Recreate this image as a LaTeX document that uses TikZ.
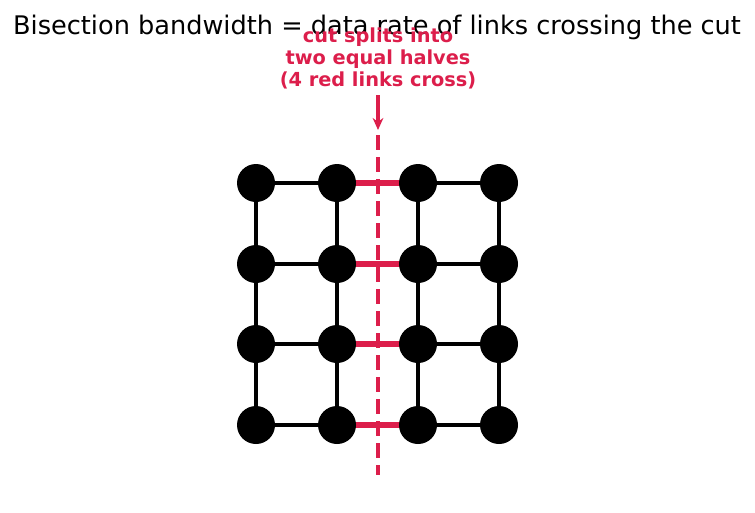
\documentclass[tikz,border=0pt]{standalone}
\usepackage{fontspec}
\setmainfont{DejaVu Sans}
\usetikzlibrary{arrows.meta}
\definecolor{cutred}{RGB}{220,30,75}
\begin{document}
\begin{tikzpicture}[x=0.75pt,y=-0.75pt,
  gnode/.style={circle,fill=black,minimum size=28.5pt,inner sep=0pt},
  link/.style={line width=3pt,black},
  cutlink/.style={line width=4.5pt,cutred},
  cutline/.style={line width=3pt,cutred,dash pattern=on 11pt off 5.5pt},
  lbl/.style={text=cutred,font=\bfseries\fontsize{14.5pt}{16.5pt}\selectfont,align=center}]
\useasboundingbox (0,0) rectangle (755,512);
\node (title) at (377,27) {\fontsize{19.2pt}{22pt}\selectfont Bisection bandwidth = data rate of links crossing the cut};
\foreach \i/\x in {1/256,2/337,3/418,4/499}{
  \foreach \j/\y in {1/183,2/264,3/344,4/425}{
    \coordinate (c\i\j) at (\x,\y);
  }
}
% links
\foreach \j in {1,2,3,4}{
  \draw[link] (c1\j) -- (c2\j);
  \draw[link] (c3\j) -- (c4\j);
  \draw[cutlink] (c2\j) -- (c3\j);
}
\foreach \i in {1,2,3,4}{
  \draw[link] (c\i1) -- (c\i2) -- (c\i3) -- (c\i4);
}
\coordinate (cuttop) at (378,135);
\coordinate (cutbot) at (378,475);
\draw[cutline] (cuttop) -- (cutbot);
\foreach \i in {1,2,3,4}{
  \foreach \j in {1,2,3,4}{
    \node[gnode] (n\i\j) at (c\i\j) {};
  }
}
\node[lbl] (cutlbl) at (378,58) {cut splits into\\two equal halves\\(4 red links cross)};
\coordinate (arrs) at (378,95);
\coordinate (arre) at (378,130);
\draw[line width=3pt,cutred,-{Stealth[length=9pt,width=8pt]}] (arrs) -- (arre);
\end{tikzpicture}
\end{document}
